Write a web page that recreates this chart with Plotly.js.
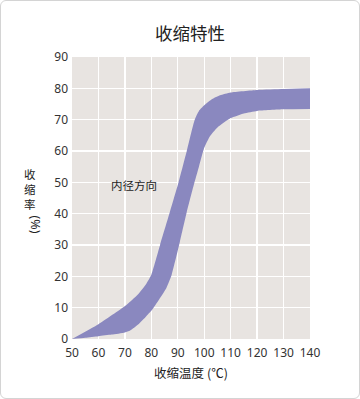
<!DOCTYPE html>
<html>
<head>
<meta charset="utf-8">
<script src="https://cdn.plot.ly/plotly-3.0.1.min.js"></script>
<style>
  html, body { margin: 0; padding: 0; background: #ffffff; }
  #frame { position: absolute; left: 0; top: 0; width: 360px; height: 399px; box-sizing: border-box; border: 1px solid #d4d4d4; border-radius: 6px; }
  #chart { position: absolute; left: 0; top: 0; width: 360px; height: 399px; }
</style>
</head>
<body>
<div id="frame"></div>
<div id="chart"></div>
<script>
// Upper (left) boundary of the band: temperature (°C) and shrinkage (%)
const upperTemp = [50, 60, 70, 75, 78, 80, 83.3, 87, 90.3, 93.4, 96.4, 98, 100, 103, 106, 110, 120, 130, 140];
const upperRate = [0, 4.7, 10.5, 14.3, 17.5, 20.5, 30, 40.5, 50, 60, 70, 72.8, 74.6, 76.6, 77.8, 78.7, 79.5, 79.8, 80];
// Lower (right) boundary of the band
const lowerTemp = [50, 55, 60, 65, 70, 72, 75, 78, 80, 83, 85.7, 87.7, 90.8, 93.4, 96, 98, 100, 102, 105, 110, 115, 120, 130, 140];
const lowerRate = [0, 0.4, 0.9, 1.4, 2.1, 2.7, 4.6, 7.2, 9, 12.7, 16.3, 20.5, 31, 40.5, 49, 55, 61, 64.5, 67.5, 70.5, 72, 72.8, 73.3, 73.4];

const xTicks = [50, 60, 70, 80, 90, 100, 110, 120, 130, 140];
const yTicks = [0, 10, 20, 30, 40, 50, 60, 70, 80, 90];

const titleText = '收缩特性';
const xTitleText = '收缩温度 (℃)';
const yTitleText = '收<br>缩<br>率';
const yTitleUnit = '(%)';
const bandLabel = '内径方向';
const bandLabelPos = [73.5, 49];

const bandColor = 'rgb(138,136,191)';
const cjk = '"Noto Sans CJK SC", "Noto Sans", sans-serif';
const tickFont = { family: '"Noto Sans", "Open Sans", sans-serif', size: 12, color: '#333333' };

const data = [
  {
    type: 'scatter', mode: 'lines',
    x: lowerTemp, y: lowerRate,
    line: { width: 0, shape: 'spline', smoothing: 0.5, color: bandColor },
    hoverinfo: 'skip', showlegend: false
  },
  {
    type: 'scatter', mode: 'lines',
    x: upperTemp, y: upperRate,
    fill: 'tonexty', fillcolor: bandColor,
    line: { width: 0, shape: 'spline', smoothing: 0.5, color: bandColor },
    hoverinfo: 'skip', showlegend: false
  }
];

const plotTop = 57, plotH = 282.5;
const layout = {
  width: 360,
  height: 399,
  margin: { l: 72, r: 50, t: 57, b: 59.5 },
  paper_bgcolor: 'rgba(0,0,0,0)',
  plot_bgcolor: 'rgb(232,228,225)',
  showlegend: false,
  title: {
    text: titleText,
    font: { family: cjk, size: 17.5, color: '#222222' },
    x: 0.528, xanchor: 'center',
    y: 0.916, yanchor: 'middle'
  },
  xaxis: {
    range: [50, 140],
    tickvals: xTicks,
    ticktext: xTicks.map(String),
    showgrid: true, gridcolor: '#ffffff', gridwidth: 1.3,
    zeroline: false, showline: false,
    ticks: '', ticklabelstandoff: 5,
    tickfont: tickFont,
    title: { text: xTitleText, font: { family: cjk, size: 12.5, color: '#222222' }, standoff: 9 },
    fixedrange: true
  },
  yaxis: {
    range: [0, 90],
    tickvals: yTicks,
    ticktext: yTicks.map(String),
    showgrid: true, gridcolor: '#ffffff', gridwidth: 1.3,
    zeroline: false, showline: false,
    ticks: '', ticklabelstandoff: 3,
    tickfont: tickFont,
    fixedrange: true
  },
  annotations: [
    {
      text: yTitleText,
      xref: 'paper', yref: 'paper',
      x: -0.176, y: (plotH + plotTop - 189) / plotH,
      xanchor: 'center', yanchor: 'middle',
      showarrow: false, align: 'center',
      font: { family: cjk, size: 11.5, color: '#222222' }
    },
    {
      text: yTitleUnit,
      xref: 'paper', yref: 'paper',
      x: -0.176, y: (plotH + plotTop - 225) / plotH,
      xanchor: 'center', yanchor: 'middle',
      xshift: 5,
      textangle: 90,
      showarrow: false,
      font: { family: '"Noto Sans", sans-serif', size: 12.5, color: '#222222' }
    },
    {
      text: bandLabel,
      x: bandLabelPos[0], y: bandLabelPos[1],
      xref: 'x', yref: 'y',
      showarrow: false,
      font: { family: cjk, size: 11.5, color: '#222222' }
    }
  ]
};

Plotly.newPlot('chart', data, layout, { displayModeBar: false, staticPlot: true });
</script>
</body>
</html>
